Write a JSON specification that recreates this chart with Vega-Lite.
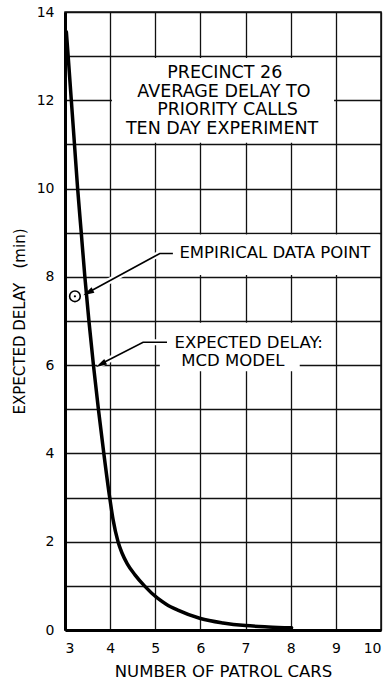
{
  "$schema": "https://vega.github.io/schema/vega-lite/v6.json",
  "width": 316,
  "height": 618,
  "autosize": {"type": "none"},
  "padding": {"left": 65, "top": 12, "right": 9, "bottom": 49},
  "background": "#ffffff",
  "datasets": {
    "curve": [
      {"x": 3.03, "y": 13.55},
      {"x": 3.07, "y": 13.0},
      {"x": 3.14, "y": 12.0},
      {"x": 3.21, "y": 11.0},
      {"x": 3.28, "y": 10.0},
      {"x": 3.36, "y": 9.0},
      {"x": 3.44, "y": 8.0},
      {"x": 3.53, "y": 7.0},
      {"x": 3.63, "y": 6.0},
      {"x": 3.74, "y": 5.0},
      {"x": 3.86, "y": 4.0},
      {"x": 3.99, "y": 3.0},
      {"x": 4.065, "y": 2.5},
      {"x": 4.175, "y": 2.0},
      {"x": 4.26, "y": 1.75},
      {"x": 4.38, "y": 1.5},
      {"x": 4.55, "y": 1.25},
      {"x": 4.76, "y": 1.0},
      {"x": 5.05, "y": 0.72},
      {"x": 5.25, "y": 0.58},
      {"x": 5.5, "y": 0.45},
      {"x": 6.0, "y": 0.26},
      {"x": 6.5, "y": 0.16},
      {"x": 7.0, "y": 0.1},
      {"x": 7.5, "y": 0.07},
      {"x": 8.02, "y": 0.05}
    ],
    "emp": [{"x": 3.22, "y": 7.56}],
    "boxes": [
      {"x": 4.04, "x2": 8.96, "y": 11.04, "y2": 12.96},
      {"x": 5.04, "x2": 9.96, "y": 8.04, "y2": 8.96},
      {"x": 5.04, "x2": 8.96, "y": 6.04, "y2": 6.96},
      {"x": 5.1, "x2": 8.2, "y": 5.86, "y2": 6.1}
    ],
    "leaders": [
      {"id": "a", "o": 1, "x": 5.39, "y": 8.53},
      {"id": "a", "o": 2, "x": 5.1, "y": 8.53},
      {"id": "a", "o": 3, "x": 3.5, "y": 7.64},
      {"id": "b", "o": 1, "x": 5.26, "y": 6.52},
      {"id": "b", "o": 2, "x": 4.73, "y": 6.52},
      {"id": "b", "o": 3, "x": 3.78, "y": 6.02}
    ],
    "heads": [
      {"x": 3.405, "y": 7.586},
      {"x": 3.686, "y": 5.96}
    ],
    "titlebox": [
      {"x": 6.54, "y": 12.61, "label": "PRECINCT 26"},
      {"x": 6.52, "y": 12.19, "label": "AVERAGE DELAY TO"},
      {"x": 6.6, "y": 11.78, "label": "PRIORITY CALLS"},
      {"x": 6.48, "y": 11.36, "label": "TEN DAY EXPERIMENT"}
    ],
    "notes": [
      {"x": 7.65, "y": 8.54, "label": "EMPIRICAL DATA POINT"},
      {"x": 7.07, "y": 6.51, "label": "EXPECTED DELAY:"},
      {"x": 6.72, "y": 6.09, "label": "MCD MODEL"}
    ]
  },
  "layer": [
    {
      "data": {"name": "boxes"},
      "mark": {"type": "rect", "fill": "#ffffff", "stroke": null},
      "encoding": {
        "x": {
          "field": "x", "type": "quantitative",
          "scale": {"domain": [3, 10], "nice": false, "zero": false},
          "axis": {
            "values": [3, 4, 5, 6, 7, 8, 9, 10],
            "title": "NUMBER OF PATROL CARS",
            "titleFontSize": 16.5,
            "labelPadding": 11,
            "titlePadding": 8
          }
        },
        "x2": {"field": "x2"},
        "y": {
          "field": "y", "type": "quantitative",
          "scale": {"domain": [0, 14], "nice": false, "zero": false},
          "axis": {
            "values": [0, 1, 2, 3, 4, 5, 6, 7, 8, 9, 10, 11, 12, 13, 14],
            "labelExpr": "datum.value % 2 === 0 ? datum.label : ''",
            "title": "EXPECTED DELAY\u00a0\u00a0\u00a0(min)",
            "labelPadding": 11,
            "titlePadding": 9
          }
        },
        "y2": {"field": "y2"}
      }
    },
    {
      "data": {"name": "leaders"},
      "mark": {"type": "line", "stroke": "#ffffff", "strokeWidth": 6, "strokeCap": "round"},
      "encoding": {
        "x": {"field": "x", "type": "quantitative"},
        "y": {"field": "y", "type": "quantitative"},
        "detail": {"field": "id"},
        "order": {"field": "o"}
      }
    },
    {
      "data": {"name": "leaders"},
      "mark": {"type": "line", "stroke": "#000000", "strokeWidth": 1.6},
      "encoding": {
        "x": {"field": "x", "type": "quantitative"},
        "y": {"field": "y", "type": "quantitative"},
        "detail": {"field": "id"},
        "order": {"field": "o"}
      }
    },
    {
      "data": {"name": "heads"},
      "mark": {"type": "point", "shape": "M0,0L-2,-0.55L-2,0.55Z", "filled": true, "color": "#000000", "opacity": 1, "size": 121, "angle": 152},
      "encoding": {
        "x": {"field": "x", "type": "quantitative"},
        "y": {"field": "y", "type": "quantitative"}
      }
    },
    {
      "data": {"name": "curve"},
      "mark": {"type": "line", "color": "#000000", "strokeWidth": 3.5, "interpolate": "monotone", "strokeCap": "round"},
      "encoding": {
        "x": {"field": "x", "type": "quantitative"},
        "y": {"field": "y", "type": "quantitative"}
      }
    },
    {
      "data": {"name": "emp"},
      "mark": {"type": "point", "shape": "circle", "filled": false, "fill": "#ffffff", "fillOpacity": 1, "stroke": "#000000", "strokeWidth": 1.6, "opacity": 1, "size": 113},
      "encoding": {
        "x": {"field": "x", "type": "quantitative"},
        "y": {"field": "y", "type": "quantitative"}
      }
    },
    {
      "data": {"name": "emp"},
      "mark": {"type": "point", "shape": "circle", "filled": true, "color": "#000000", "opacity": 1, "size": 5},
      "encoding": {
        "x": {"field": "x", "type": "quantitative"},
        "y": {"field": "y", "type": "quantitative"}
      }
    },
    {
      "data": {"name": "titlebox"},
      "mark": {"type": "text", "font": "DejaVu Sans", "fontSize": 17.5, "color": "#000000", "align": "center", "baseline": "middle"},
      "encoding": {
        "x": {"field": "x", "type": "quantitative"},
        "y": {"field": "y", "type": "quantitative"},
        "text": {"field": "label"}
      }
    },
    {
      "data": {"name": "notes"},
      "mark": {"type": "text", "font": "DejaVu Sans", "fontSize": 16.5, "color": "#000000", "align": "center", "baseline": "middle"},
      "encoding": {
        "x": {"field": "x", "type": "quantitative"},
        "y": {"field": "y", "type": "quantitative"},
        "text": {"field": "label"}
      }
    }
  ],
  "config": {
    "font": "DejaVu Sans",
    "view": {"stroke": "#111111", "strokeWidth": 1.5},
    "axis": {
      "grid": true,
      "gridColor": "#111111",
      "gridWidth": 1.3,
      "gridOpacity": 1,
      "domainColor": "#000000",
      "domainWidth": 3,
      "ticks": false,
      "tickSize": 0,
      "labelFont": "DejaVu Sans",
      "labelFontSize": 14,
      "labelColor": "#000000",
      "titleFont": "DejaVu Sans",
      "titleFontSize": 15,
      "titleFontWeight": "normal",
      "titleColor": "#000000"
    }
  }
}
